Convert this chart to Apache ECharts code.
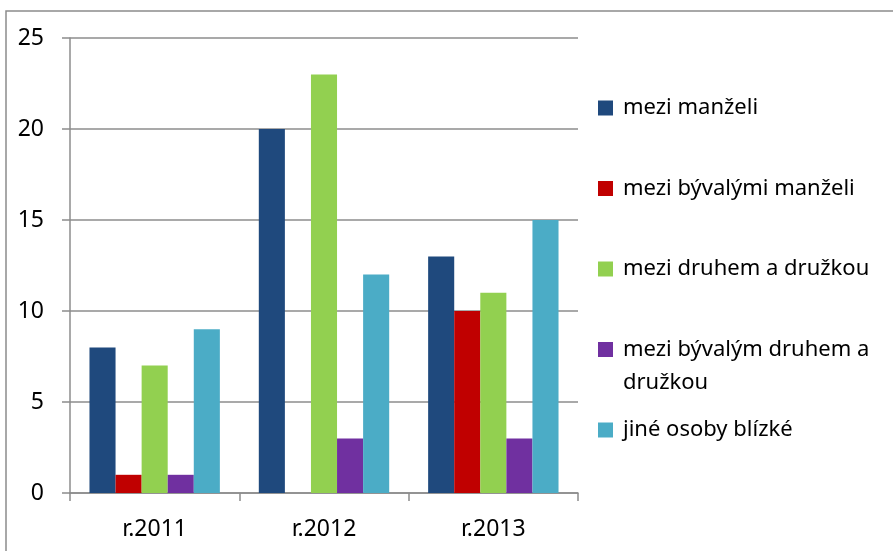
<!DOCTYPE html>
<html>
<head>
<meta charset="UTF-8">
<title>Chart</title>
<script src="https://cdn.jsdelivr.net/npm/echarts@6/dist/echarts.min.js"></script>
<style>
html, body { margin: 0; padding: 0; width: 100%; height: 100%; background: #fff; }
#chart { width: 893px; height: 551px; }
</style>
</head>
<body>
<div id="chart"></div>
<script>
var categories = ['r.2011', 'r.2012', 'r.2013'];
var seriesNames = ['mezi manželi', 'mezi bývalými manželi', 'mezi druhem a družkou', 'mezi bývalým druhem a družkou', 'jiné osoby blízké'];
var manzele = [8, 20, 13];
var byvaliManzele = [1, 0, 10];
var druh = [7, 23, 11];
var byvalyDruh = [1, 3, 3];
var jine = [9, 12, 15];
var yTicks = [0, 5, 10, 15, 20, 25];
var colors = ['#1F497D', '#C00000', '#92D050', '#7030A0', '#4BACC6'];

var font = 'Noto Sans';
var chart = echarts.init(document.getElementById('chart'));

var values = [manzele, byvaliManzele, druh, byvalyDruh, jine];
var series = [];
for (var i = 0; i < seriesNames.length; i++) {
    series.push({
        name: seriesNames[i],
        type: 'bar',
        data: values[i],
        barGap: '0%',
        barCategoryGap: '23%',
        itemStyle: { color: colors[i] }
    });
}

chart.setOption({
    animation: false,
    color: colors,
    textStyle: { fontFamily: font },
    grid: { left: 70, right: 315, top: 38, bottom: 58 },
    xAxis: {
        type: 'category',
        data: categories,
        axisLine: { lineStyle: { color: '#8c8c8c', width: 1.5 } },
        axisTick: { show: true, length: 8, lineStyle: { color: '#8c8c8c', width: 1.5 } },
        axisLabel: { color: '#000', fontSize: 23, margin: 25, fontFamily: font }
    },
    yAxis: {
        type: 'value',
        min: yTicks[0],
        max: yTicks[yTicks.length - 1],
        interval: 5,
        axisLine: { show: true, lineStyle: { color: '#8c8c8c', width: 1.5 } },
        axisTick: { show: true, length: 8, lineStyle: { color: '#8c8c8c', width: 1.5 } },
        axisLabel: { color: '#000', fontSize: 23, margin: 26, fontFamily: font },
        splitLine: { lineStyle: { color: '#8c8c8c', width: 1.5 } }
    },
    legend: {
        orient: 'vertical',
        left: 598,
        top: 96,
        padding: 0,
        itemWidth: 15,
        itemHeight: 15,
        itemGap: 56.5,
        icon: 'rect',
        data: seriesNames,
        textStyle: { color: '#000', fontSize: 22, lineHeight: 24, padding: [0, 0, 0, 5], fontFamily: font },
        formatter: function (name) {
            if (name === seriesNames[3]) return 'mezi bývalým druhem a';
            return name;
        }
    },
    graphic: [
        {
            type: 'rect',
            shape: { x: 6, y: 11, width: 900, height: 560 },
            style: { fill: 'none', stroke: '#8c8c8c', lineWidth: 1.5 },
            silent: true
        },
        {
            type: 'text',
            left: 623,
            top: 372,
            style: { text: 'družkou', fill: '#000', fontSize: 22, fontFamily: font }
        }
    ],
    series: series
});
</script>
</body>
</html>
